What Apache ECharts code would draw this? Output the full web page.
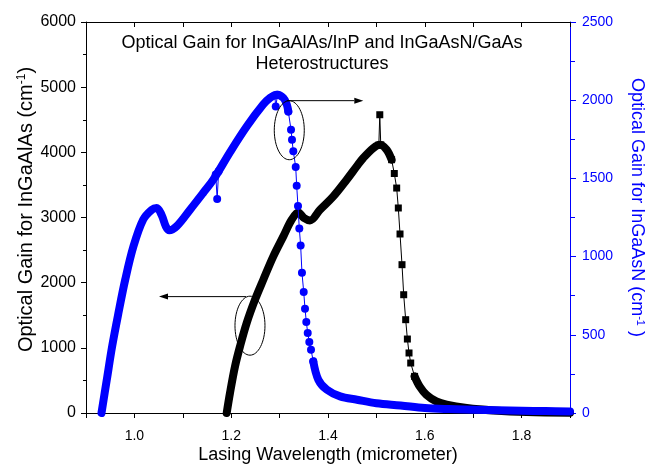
<!DOCTYPE html>
<html><head><meta charset="utf-8">
<script src="https://cdn.jsdelivr.net/npm/echarts@6/dist/echarts.min.js"></script>
<style>html,body{margin:0;padding:0;background:#fff}#c{width:649px;height:464px}</style>
</head><body><div id="c"></div>
<script>
// ---- InGaAsN (blue, right axis) ----
const blueRiseX = [0.932,0.943,0.954,0.967,0.981,0.998,1.018,1.036,1.046,1.056,1.065,1.072,1.087,1.115,1.142,1.163,1.198,1.232,1.266,1.280,1.294,1.308,1.315,1.318];
const blueRiseY = [0,213,426,639,852,1065,1236,1300,1311,1268,1193,1168,1193,1300,1407,1492,1670,1832,1972,2014,2035,2014,1971,1928];
const blueSpikeX = [1.168,1.171,1.174];
const blueSpikeY = [1525,1368,1545];
const bluePeakDipX = [1.290,1.292,1.296];
const bluePeakDipY = [2030,1960,2035];
const blueDropX = [1.3236,1.3256,1.3283,1.3333,1.3353,1.338,1.3407,1.3435,1.3462,1.3498,1.3525,1.3552,1.3581,1.3614,1.3649];
const blueDropY = [1811,1747,1673,1573,1453,1323,1180,1071,897,774,667,582,512,454,405];
const blueTailX = [1.3696,1.380,1.3975,1.425,1.46,1.50,1.55,1.60,1.65,1.70,1.75,1.80,1.85,1.90];
const blueTailY = [330,213,149,106,85,62,48,32,25,21,17,14,12,10];

// ---- InGaAlAs (black, left axis) ----
const blackRiseX = [1.1907,1.1975,1.2079,1.2182,1.232,1.2492,1.2663,1.287,1.3077,1.325,1.3386,1.3504,1.3628,1.3835,1.411,1.4386,1.4593,1.4729,1.4936,1.5074,1.5212,1.5314];
const blackRiseY = [0,307,715,1022,1381,1739,2045,2403,2710,2966,3078,2992,2955,3120,3324,3580,3784,3913,4066,4117,4040,3887];
const blackSpikeX = [1.505,1.507,1.509];
const blackSpikeY = [4110,4577,4115];
const blackDropX = [1.537,1.5419,1.5453,1.5488,1.5529,1.5564,1.5605,1.564,1.5674,1.5709];
const blackDropY = [3675,3452,3146,2747,2276,1815,1432,1135,921,767];
const blackTailX = [1.5789,1.5893,1.6032,1.6238,1.6452,1.6866,1.7415,1.8105,1.90];
const blackTailY = [562,408,281,178,127,77,40,15,5];

// ---- axes ----
const xMin = 0.9, xMax = 1.9, xStep = 0.1;
const leftMax = 6000, leftStep = 1000;
const rightMax = 2500, rightStep = 500;

const titleText = 'Optical Gain for InGaAlAs/InP and InGaAsN/GaAs\nHeterostructures';
const xName = 'Lasing Wavelength (micrometer)';
const leftName = 'Optical Gain for InGaAlAs (cm{sup|-1})';
const rightName = 'Optical Gain for InGaAsN (cm{sup|-1} )';

const BLUE = '#0000ff';
const FONT = 'Liberation Sans, Arial, sans-serif';

function zip(xs, ys){ return xs.map((x,i)=>[x, ys[i]]); }
const last = a => a[a.length-1];

const chart = echarts.init(document.getElementById('c'), null, {renderer:'canvas'});

function thick(data, color, yIdx){
  return {type:'line', data, yAxisIndex:yIdx, showSymbol:false, symbol:'none', clip:false, smooth:0.35,
    lineStyle:{color, width:8, cap:'round', join:'round'}, z:2, silent:true};
}
function thin(data, color, yIdx, symbol, size){
  return {type:'line', data, yAxisIndex:yIdx, symbol, symbolSize:size, showSymbol:true, clip:false,
    itemStyle:{color}, lineStyle:{color, width:1}, z:3, silent:true};
}

const blackRise = zip(blackRiseX, blackRiseY), blackTail = zip(blackTailX, blackTailY);
const blueRise = zip(blueRiseX, blueRiseY), blueTail = zip(blueTailX, blueTailY);

chart.setOption({
  animation:false,
  textStyle:{fontFamily:FONT},
  title:{text:titleText, left:322, top:33, textAlign:'center', padding:0,
    textStyle:{fontSize:18, fontWeight:'normal', color:'#000', lineHeight:21, fontFamily:FONT}},
  grid:{left:86, right:79, top:22, bottom:51, containLabel:false, outerBoundsMode:'none'},
  xAxis:[
    {type:'value', min:xMin, max:xMax, interval:xStep, position:'bottom',
     axisLine:{onZero:false, lineStyle:{color:'#000', width:1}},
     axisTick:{length:5, lineStyle:{color:'#000'}},
     axisLabel:{fontSize:14, color:'#000', margin:16, fontFamily:FONT,
       formatter:v=>{const k=Math.round(v*10); return k%2===0 ? (k/10).toFixed(1) : '';}},
     splitLine:{show:false},
     name:xName, nameLocation:'middle', nameGap:33, nameMoveOverlap:false,
     nameTextStyle:{fontSize:18, color:'#000', fontFamily:FONT}},
    {type:'value', min:xMin, max:xMax, interval:xStep, position:'top',
     axisLine:{onZero:false, lineStyle:{color:'#000', width:1}},
     axisTick:{inside:true, length:5, lineStyle:{color:'#000'}},
     axisLabel:{show:false}, splitLine:{show:false}}
  ],
  yAxis:[
    {type:'value', min:0, max:leftMax, interval:leftStep, position:'left',
     axisLine:{show:true, onZero:false, lineStyle:{color:'#000', width:1}},
     axisTick:{length:5, lineStyle:{color:'#000'}},
     minorTick:{show:true, splitNumber:2, length:3, lineStyle:{color:'#000'}},
     axisLabel:{fontSize:16, color:'#000', margin:10, fontFamily:FONT, formatter:v=>String(v)},
     splitLine:{show:false},
     name:leftName, nameLocation:'middle', nameGap:50, nameRotate:90, nameMoveOverlap:false,
     nameTextStyle:{fontSize:20, color:'#000', fontFamily:FONT, padding:[0,0,0,16],
       rich:{sup:{fontSize:12, verticalAlign:'top', color:'#000', fontFamily:FONT}}}},
    {type:'value', min:0, max:rightMax, interval:rightStep, position:'right',
     axisLine:{show:true, onZero:false, lineStyle:{color:BLUE, width:1}},
     axisTick:{length:6, lineStyle:{color:BLUE}},
     minorTick:{show:true, splitNumber:2, length:5, lineStyle:{color:BLUE}},
     axisLabel:{fontSize:14, color:BLUE, margin:12, fontFamily:FONT, formatter:v=>String(v)},
     splitLine:{show:false},
     name:rightName, nameLocation:'middle', nameGap:58, nameRotate:-90,
     nameTextStyle:{fontSize:18, color:BLUE, fontFamily:FONT, padding:[0,20,0,0],
       rich:{sup:{fontSize:11, verticalAlign:'top', color:BLUE, fontFamily:FONT}}}}
  ],
  series:[
    thick(blackRise, '#000', 0),
    thick(blackTail, '#000', 0),
    thin([last(blackRise), ...zip(blackDropX, blackDropY), blackTail[0]], '#000', 0, 'rect', 7),
    thin(zip(blackSpikeX, blackSpikeY), '#000', 0, 'rect', 7),
    thick(blueRise, BLUE, 1),
    thick(blueTail, BLUE, 1),
    thin([last(blueRise), ...zip(blueDropX, blueDropY), blueTail[0]], BLUE, 1, 'circle', 8),
    thin(zip(blueSpikeX, blueSpikeY), BLUE, 1, 'circle', 8),
    thin(zip(bluePeakDipX, bluePeakDipY), BLUE, 1, 'circle', 8)
  ]
});

// ---- annotations (anchored in data coordinates) ----
const noteBlack = {axis:0, center:[1.2388,1340], from:[1.2306,1786], to:[1.0508,1786]};
const noteBlue  = {axis:1, center:[1.32,1808], from:[1.3147,1997], to:[1.473,1997]};
function px(axis, p){ return chart.convertToPixel({xAxisIndex:0, yAxisIndex:axis}, p); }
function annot(n){
  const c = px(n.axis, n.center), a = px(n.axis, n.from), b = px(n.axis, n.to);
  const dir = Math.sign(b[0]-a[0]);
  const hl = 9, hw = 3;
  return [
    {type:'ellipse', shape:{cx:c[0], cy:c[1], rx:15, ry:29.5}, style:{fill:null, stroke:'#000', lineWidth:1}, z:10},
    {type:'line', shape:{x1:a[0], y1:a[1], x2:b[0]-dir*hl, y2:b[1]}, style:{stroke:'#000', lineWidth:1}, z:10},
    {type:'polygon', shape:{points:[[b[0],b[1]],[b[0]-dir*hl,b[1]-hw],[b[0]-dir*hl,b[1]+hw]]}, style:{fill:'#000'}, z:10}
  ];
}
chart.setOption({graphic:[...annot(noteBlack), ...annot(noteBlue)]});
</script></body></html>
